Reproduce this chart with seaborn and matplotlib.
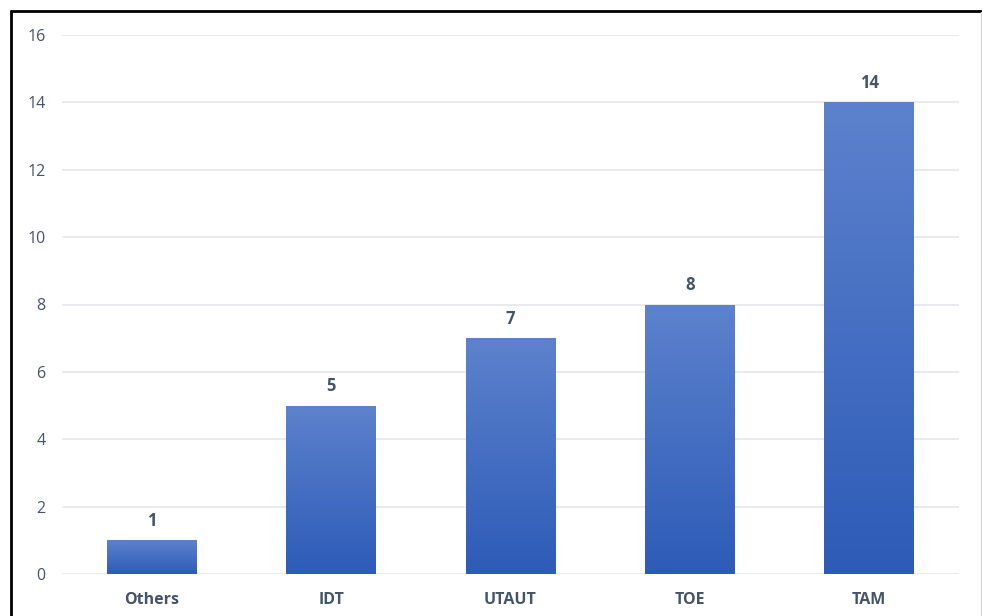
import numpy as np
import pandas as pd
import matplotlib
matplotlib.use("Agg")
import matplotlib.pyplot as plt
from matplotlib.colors import LinearSegmentedColormap
from matplotlib.lines import Line2D
import seaborn as sns

# Number of studies per adoption theory
theories = ["Others", "IDT", "UTAUT", "TOE", "TAM"]
counts = [1, 5, 7, 8, 14]
y_ticks = [0, 2, 4, 6, 8, 10, 12, 14, 16]

df = pd.DataFrame({"theory": theories, "count": counts})

sns.set_theme(style="white")
plt.rcParams["font.family"] = ["Open Sans", "DejaVu Sans"]

W, H = 982, 616
fig = plt.figure(figsize=(W / 100, H / 100), dpi=100)
ax = fig.add_axes([62 / W, (H - 574) / H, (959 - 62) / W, (574 - 35) / H])

sns.barplot(data=df, x="theory", y="count", ax=ax, width=0.5,
            color="#3F6CC4", saturation=1, zorder=3)

ax.set_xlim(-0.5, len(theories) - 0.5)
ax.set_ylim(0, 16)
ax.set_yticks(y_ticks)
ax.set_yticklabels([str(t) for t in y_ticks])
ax.yaxis.grid(True, color="#E6E8EE", linewidth=1.3, zorder=0)
ax.set_axisbelow(True)
for s in ax.spines.values():
    s.set_visible(False)
ax.set_xlabel("")
ax.set_ylabel("")

text_col = "#44546A"
ax.tick_params(axis="y", length=0, pad=12, labelsize=11.5, labelcolor=text_col)
ax.tick_params(axis="x", length=0, pad=13, labelsize=11.5, labelcolor=text_col)
for lbl in ax.get_xticklabels():
    lbl.set_fontweight("bold")

# vertical gradient fill on each bar
cmap = LinearSegmentedColormap.from_list("barfill", ["#2D5BB7", "#5D82CD"])
grad = np.linspace(0, 1, 256).reshape(-1, 1)
for patch in list(ax.patches):
    x0, y0 = patch.get_x(), patch.get_y()
    w, h = patch.get_width(), patch.get_height()
    im = ax.imshow(grad, cmap=cmap, aspect="auto", origin="lower",
                   extent=[x0, x0 + w, y0, y0 + h], zorder=4)
    im.set_clip_path(patch)
    patch.set_edgecolor("none")

for i, v in enumerate(counts):
    ax.annotate(str(v), (i, v), xytext=(0, 7.5), textcoords="offset points",
                ha="center", va="bottom", fontsize=12, fontweight="bold",
                color=text_col, zorder=5)

# outer frame
fig.add_artist(Line2D([10.5 / W, 10.5 / W], [0, (H - 11) / H],
                      transform=fig.transFigure, color="black", linewidth=2))
fig.add_artist(Line2D([10.5 / W, 1], [(H - 11) / H, (H - 11) / H],
                      transform=fig.transFigure, color="black", linewidth=2))
fig.add_artist(Line2D([981 / W, 981 / W], [0, (H - 12) / H],
                      transform=fig.transFigure, color="#D9D9D9", linewidth=1))

fig.savefig("out.png", dpi=100)
